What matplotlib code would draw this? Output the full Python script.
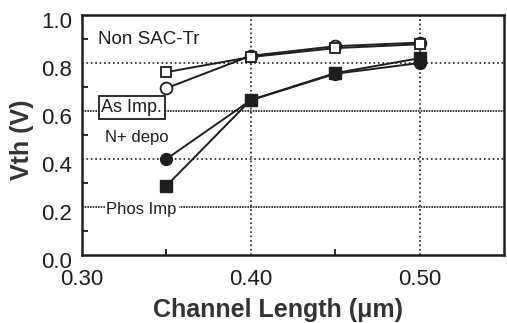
import numpy as np
import matplotlib
matplotlib.use("Agg")
import matplotlib.pyplot as plt
import matplotlib.transforms as mtransforms

# channel length (um)
length = [0.35, 0.40, 0.45, 0.50]

# Vth (V)
non_sac = [0.695, 0.83, 0.87, 0.885]   # open circles
as_imp = [0.762, 0.825, 0.862, 0.878]  # open squares
n_depo = [0.40, 0.645, 0.755, 0.80]    # filled circles
phos_imp = [0.288, 0.646, 0.758, 0.82] # filled squares

xticks = [0.30, 0.40, 0.50]
xtick_labels = ["0.30", "0.40", "0.50"]
yticks = [0.0, 0.2, 0.4, 0.6, 0.8, 1.0]
ytick_labels = ["0.0", "0.2", "0.4", "0.6", "0.8", "1.0"]

plt.rcParams['font.family'] = ['Liberation Sans', 'DejaVu Sans']
ink = '#1e1e1e'
fig = plt.figure(figsize=(5.07, 3.23), dpi=100)
ax = fig.add_axes([82 / 507, 68 / 323, 422 / 507, 240 / 323])

# grid: 0.4/0.8 coarse dots, 0.2/0.6 fine dense dots
for y, ls in zip([0.2, 0.4, 0.6, 0.8], [(0, (1, 0.6)), ':', (0, (1, 0.6)), ':']):
    ax.axhline(y, color=ink, lw=1.2, ls=ls, zorder=1)
for x in [0.40, 0.50]:
    ax.axvline(x, color=ink, lw=1.2, ls=':', zorder=1)

ax.plot(length, non_sac, '-o', color=ink, mfc='white', mec=ink, ms=8.5, mew=1.3, lw=1.4, zorder=3)
ax.plot(length, as_imp, '-s', color=ink, mfc='white', mec=ink, ms=7, mew=1.3, lw=1.4, zorder=3)
ax.plot(length, n_depo, '-o', color=ink, mfc=ink, ms=8.5, lw=1.4, zorder=3)
ax.plot(length, phos_imp, '-s', color=ink, mfc=ink, ms=8.5, lw=1.4, zorder=3)

ax.set_xlim(0.30, 0.55)
ax.set_ylim(0.0, 1.0)
ax.set_xticks(xticks)
ax.set_xticklabels(xtick_labels)
ax.set_yticks(yticks)
ax.set_yticklabels(ytick_labels)
ax.set_yticks(np.arange(0.1, 1.0, 0.2), minor=True)
ax.set_xticks([0.35, 0.45], minor=True)
ax.tick_params(axis='both', which='both', direction='in', labelsize=16, colors=ink)
ax.tick_params(which='major', length=0)
ax.tick_params(axis='x', which='major', pad=10)
ax.tick_params(axis='y', which='major', pad=7)
ax.tick_params(which='minor', length=4, width=1.3)
off = mtransforms.ScaledTranslation(0, -5 / 100, fig.dpi_scale_trans)
for lab in ax.get_yticklabels():
    lab.set_transform(lab.get_transform() + off)

for s in ax.spines.values():
    s.set_linewidth(1.8)
    s.set_color(ink)

fig.text(278 / 507, 1 - 310 / 323, "Channel Length (\u03bcm)", fontsize=18,
         fontweight='bold', color='#333', ha='center', va='center')
fig.text(22 / 507, 1 - 140 / 323, "Vth (V)", fontsize=18, fontweight='bold',
         color='#333', ha='center', va='center', rotation=90)

ax.text(0.3095, 0.896, "Non SAC-Tr", fontsize=13.5, va='center', color=ink)
ax.text(0.3115, 0.615, "As Imp.", fontsize=13, va='center', color=ink, zorder=4,
        bbox=dict(boxstyle='square,pad=0.15', fc='white', ec=ink, lw=1.3))
ax.text(0.3135, 0.49, "N+ depo", fontsize=12, va='center', color=ink)
ax.text(0.3145, 0.19, "Phos Imp", fontsize=12, va='center', color=ink, zorder=4,
        bbox=dict(boxstyle='square,pad=0.1', fc='white', ec='none'))

fig.savefig("out.png", dpi=100)
